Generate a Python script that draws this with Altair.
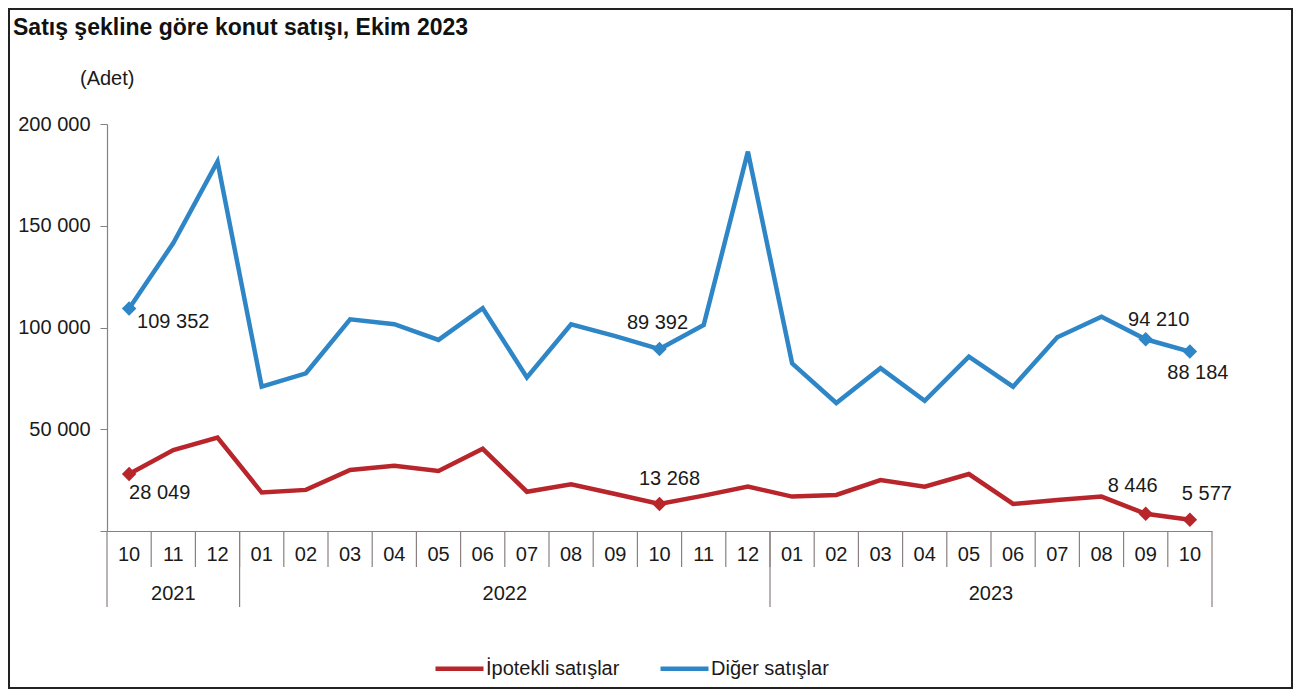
import altair as alt
import pandas as pd

# ---- data ----
months = ["10", "11", "12", "01", "02", "03", "04", "05", "06", "07", "08", "09",
          "10", "11", "12", "01", "02", "03", "04", "05", "06", "07", "08", "09", "10"]
years = ["2021"] * 3 + ["2022"] * 12 + ["2023"] * 10
ipotekli = [28049, 39800, 45900, 18900, 20200, 30000, 32100, 29500, 40400, 19300,
            22900, 18200, 13268, 17400, 21800, 16900, 17700, 25000, 21800, 28000,
            13300, 15200, 16900, 8446, 5577]
diger = [109352, 141500, 181500, 70900, 77500, 104000, 101600, 93900, 109500, 75500,
         101600, 95800, 89392, 101200, 186400, 82400, 62900, 80000, 64000, 85700,
         70900, 95200, 105300, 94210, 88184]
series_names = ["İpotekli satışlar", "Diğer satışlar"]
series_colors = ["#B8252B", "#2E86C6"]
labelled_idx = [0, 12, 23, 24]
y_ticks = [0, 50000, 100000, 150000, 200000]
title_text = "Satış şekline göre konut satışı, Ekim 2023"
unit_text = "(Adet)"

# ---- layout / style ----
W, H = 1105, 407
FONT = "Liberation Sans"
AXIS_COL = "#8a8080"
TXT = "#1a1a1a"
# label placement per (series, index): align, dx, dy
label_pos = {
    (1, 0): ("left", 8, 14),
    (0, 0): ("left", 0, 19),
    (1, 12): ("center", -2, -26),
    (0, 12): ("center", 10, -25),
    (1, 23): ("center", 13, -19),
    (1, 24): ("center", 8, 21),
    (0, 23): ("center", -13, -28),
    (0, 24): ("center", 17, -26),
}

n = len(months)
idx = list(range(n))
long_rows = []
for s, vals in enumerate([ipotekli, diger]):
    for i in idx:
        long_rows.append({"idx": i, "series": series_names[s], "value": vals[i]})
df = pd.DataFrame(long_rows)

xscale = alt.Scale(domain=[-0.5, n - 0.5], nice=False, zero=False)
yscale = alt.Scale(domain=[0, 200000], nice=False)

x_enc = alt.X("idx:Q", scale=xscale,
              axis=alt.Axis(labels=False, ticks=False, grid=False, title=None,
                            domainColor=AXIS_COL, domainWidth=1.2))
y_enc = alt.Y("value:Q", scale=yscale,
              axis=alt.Axis(values=y_ticks, grid=False, title=None,
                            labelExpr="datum.value == 0 ? '' : replace(format(datum.value, ','), ',', ' ')",
                            labelFontSize=20, labelColor=TXT, labelPadding=10,
                            tickSize=7, tickColor=AXIS_COL, domainColor=AXIS_COL,
                            domainWidth=1.2, labelFont=FONT))

lines = alt.Chart(df).mark_line(strokeWidth=4.5, strokeJoin="miter").encode(
    x=x_enc, y=y_enc,
    color=alt.Color("series:N",
                    scale=alt.Scale(domain=series_names, range=series_colors),
                    sort=series_names,
                    legend=alt.Legend(title=None, orient="none", direction="horizontal",
                                      legendX=326, legendY=518, symbolType="stroke",
                                      symbolSize=2304, symbolStrokeWidth=4.5,
                                      labelFontSize=20, labelFont=FONT, labelColor=TXT,
                                      labelOffset=0, columnPadding=31, padding=0)),
)

layers = [lines]

# markers at labelled points
for s, vals in enumerate([ipotekli, diger]):
    pts = pd.DataFrame({"idx": labelled_idx, "value": [vals[i] for i in labelled_idx]})
    layers.append(alt.Chart(pts).mark_point(shape="diamond", filled=True, size=210,
                                            opacity=1, color=series_colors[s]).encode(
        x="idx:Q", y="value:Q"))
    for i in labelled_idx:
        align, dx, dy = label_pos[(s, i)]
        lab = pd.DataFrame({"idx": [i], "value": [vals[i]],
                            "txt": [f"{vals[i]:,}".replace(",", " ")]})
        layers.append(alt.Chart(lab).mark_text(align=align, baseline="middle", dx=dx, dy=dy,
                                               fontSize=20, font=FONT, color=TXT).encode(
            x="idx:Q", y="value:Q", text="txt:N"))

# month labels and separators
mdf = pd.DataFrame({"idx": idx, "month": months})
layers.append(alt.Chart(mdf).mark_text(fontSize=20, font=FONT, color=TXT,
                                       baseline="middle").encode(
    x="idx:Q", y=alt.value(H + 24), text="month:N"))
sep = pd.DataFrame({"pos": [i - 0.5 for i in range(1, n)]})
layers.append(alt.Chart(sep).mark_rule(color=AXIS_COL, strokeWidth=1.2).encode(
    x="pos:Q", y=alt.value(H), y2=alt.value(H + 36)))

# year groups
bounds = [-0.5] + [i - 0.5 for i in range(1, n) if years[i] != years[i - 1]] + [n - 0.5]
ydf = pd.DataFrame({"pos": bounds})
layers.append(alt.Chart(ydf).mark_rule(color=AXIS_COL, strokeWidth=1.2).encode(
    x="pos:Q", y=alt.value(H), y2=alt.value(H + 76)))
year_names = []
year_centers = []
for y in dict.fromkeys(years):
    ii = [i for i in idx if years[i] == y]
    year_names.append(y)
    year_centers.append((ii[0] + ii[-1]) / 2)
yl = pd.DataFrame({"pos": year_centers, "year": year_names})
layers.append(alt.Chart(yl).mark_text(fontSize=20, font=FONT, color=TXT,
                                      baseline="middle").encode(
    x="pos:Q", y=alt.value(H + 63), text="year:N"))

# title, unit, frame
one = pd.DataFrame({"a": [0]})
layers.append(alt.Chart(one).mark_text(text=title_text, align="left", baseline="alphabetic",
                                       fontSize=23, fontWeight="bold", font=FONT,
                                       color="#111").encode(
    x=alt.value(-94), y=alt.value(-89)))
layers.append(alt.Chart(one).mark_text(text=unit_text, align="left", baseline="alphabetic",
                                       fontSize=20, font=FONT, color=TXT).encode(
    x=alt.value(-27), y=alt.value(-39)))
layers.append(alt.Chart(one).mark_rect(fillOpacity=0, stroke="#222", strokeWidth=2).encode(
    x=alt.value(-98), x2=alt.value(1185), y=alt.value(-115), y2=alt.value(564)))

chart = alt.layer(*layers).properties(
    width=W, height=H,
    autosize=alt.AutoSizeParams(type="none"),
    padding={"left": 99, "top": 116, "right": 81, "bottom": 158},
    background="white",
).configure(font=FONT, view=alt.ViewConfig(stroke=None))

chart.save("out.html", embed_options={"renderer": "svg", "actions": False})
